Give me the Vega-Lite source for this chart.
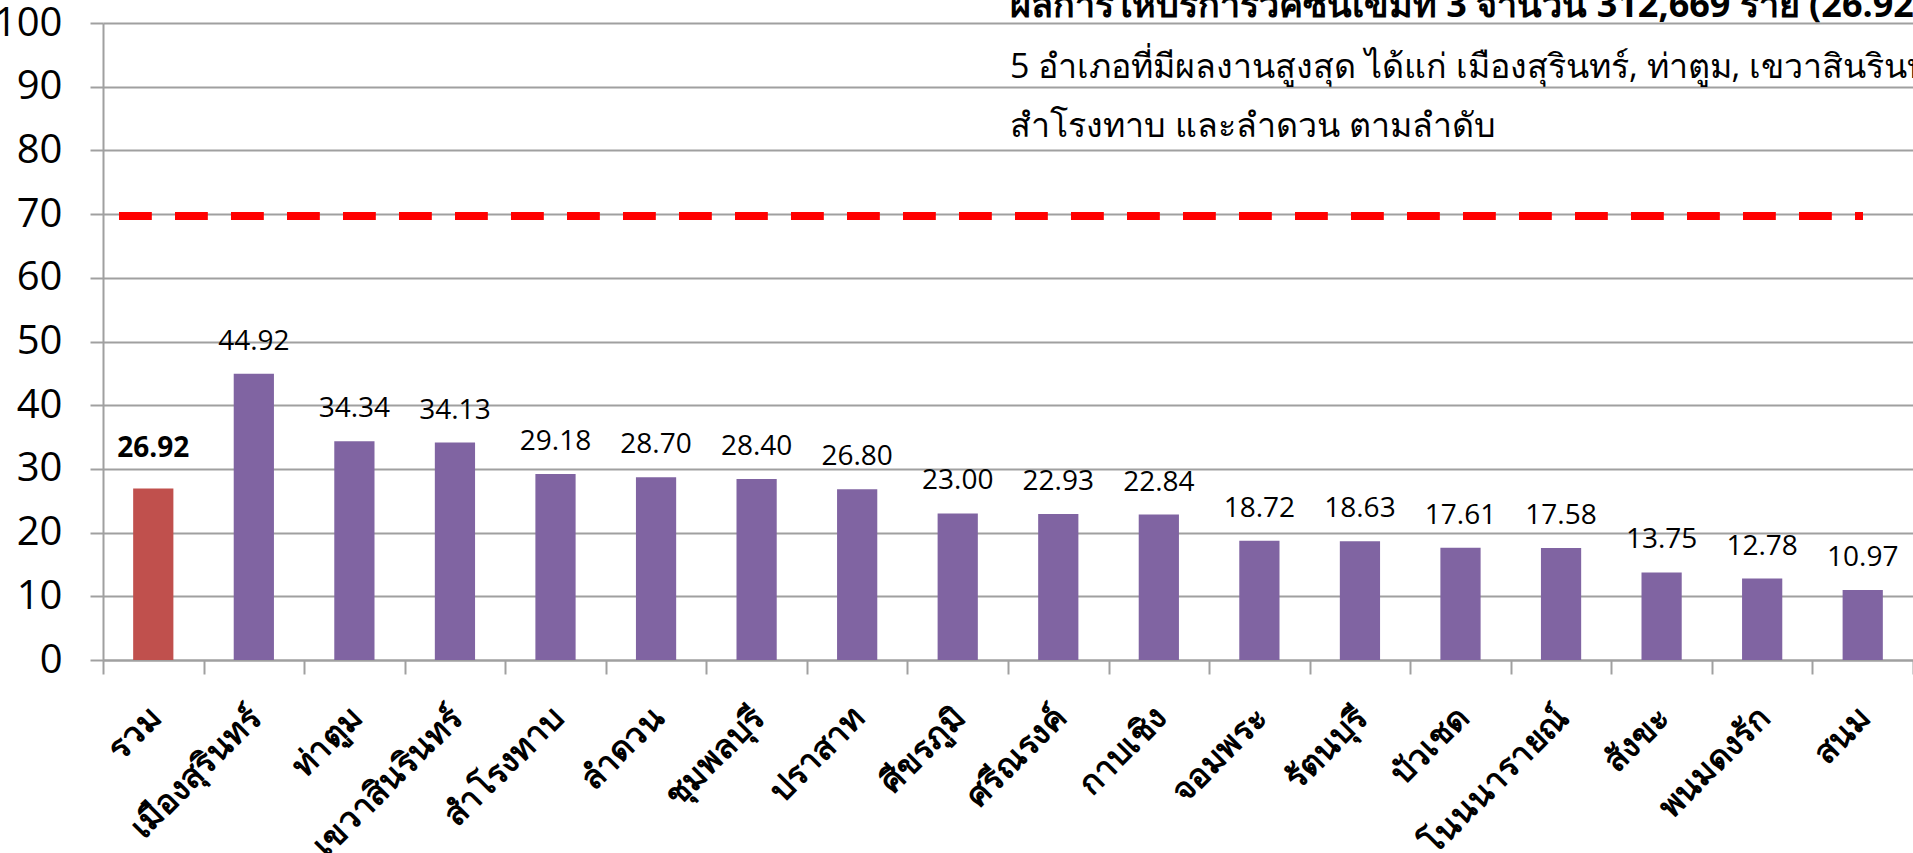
{
  "$schema": "https://vega.github.io/schema/vega-lite/v6.json",
  "width": 1810,
  "height": 637,
  "autosize": {"type": "none"},
  "padding": {"left": 103, "top": 23, "right": 0, "bottom": 193},
  "background": "white",
  "config": {"view": {"stroke": null}, "font": "Open Sans"},
  "datasets": {
    "bars": [
      {"district": "รวม", "pct": 26.92, "kind": "total"},
      {"district": "เมืองสุรินทร์", "pct": 44.92, "kind": "district"},
      {"district": "ท่าตูม", "pct": 34.34, "kind": "district"},
      {"district": "เขวาสินรินทร์", "pct": 34.13, "kind": "district"},
      {"district": "สำโรงทาบ", "pct": 29.18, "kind": "district"},
      {"district": "ลำดวน", "pct": 28.70, "kind": "district"},
      {"district": "ชุมพลบุรี", "pct": 28.40, "kind": "district"},
      {"district": "ปราสาท", "pct": 26.80, "kind": "district"},
      {"district": "ศีขรภูมิ", "pct": 23.00, "kind": "district"},
      {"district": "ศรีณรงค์", "pct": 22.93, "kind": "district"},
      {"district": "กาบเชิง", "pct": 22.84, "kind": "district"},
      {"district": "จอมพระ", "pct": 18.72, "kind": "district"},
      {"district": "รัตนบุรี", "pct": 18.63, "kind": "district"},
      {"district": "บัวเชด", "pct": 17.61, "kind": "district"},
      {"district": "โนนนารายณ์", "pct": 17.58, "kind": "district"},
      {"district": "สังขะ", "pct": 13.75, "kind": "district"},
      {"district": "พนมดงรัก", "pct": 12.78, "kind": "district"},
      {"district": "สนม", "pct": 10.97, "kind": "district"}
    ]
  },
  "data": {"name": "bars"},
  "layer": [
    {
      "mark": {"type": "bar", "width": {"band": 0.4}},
      "encoding": {
        "x": {
          "field": "district", "type": "nominal", "sort": null,
          "scale": {
            "domain": ["รวม", "เมืองสุรินทร์", "ท่าตูม", "เขวาสินรินทร์", "สำโรงทาบ", "ลำดวน", "ชุมพลบุรี", "ปราสาท", "ศีขรภูมิ", "ศรีณรงค์", "กาบเชิง", "จอมพระ", "รัตนบุรี", "บัวเชด", "โนนนารายณ์", "สังขะ", "พนมดงรัก", "สนม"],
            "paddingInner": 0, "paddingOuter": 0
          },
          "axis": {
            "title": null, "labelAngle": -45, "tickBand": "extent", "tickSize": 14,
            "tickColor": "#a0a0a0", "tickWidth": 2, "domainColor": "#a0a0a0", "domainWidth": 2,
            "labelFontSize": 33, "labelFontWeight": "bold", "labelColor": "#000000",
            "labelPadding": 27, "labelOffset": -9, "labelLimit": 400, "grid": false
          }
        },
        "y": {
          "field": "pct", "type": "quantitative",
          "scale": {"domain": [0, 100]},
          "axis": {
            "title": null, "values": [0, 10, 20, 30, 40, 50, 60, 70, 80, 90, 100],
            "grid": true, "gridColor": "#a0a0a0", "gridWidth": 2,
            "domainColor": "#a0a0a0", "domainWidth": 2,
            "tickColor": "#a0a0a0", "tickWidth": 2, "tickSize": 13,
            "labelFontSize": 40, "labelColor": "#000000", "labelPadding": 28
          }
        },
        "color": {
          "field": "kind", "type": "nominal",
          "scale": {"domain": ["total", "district"], "range": ["#C0504D", "#8064A2"]},
          "legend": null
        }
      }
    },
    {
      "mark": {"type": "rule", "color": "#ff0000", "strokeWidth": 8, "strokeDash": [32, 24], "strokeCap": "butt"},
      "encoding": {
        "x": {"datum": "รวม", "type": "nominal", "bandPosition": 0.16},
        "x2": {"datum": "สนม"},
        "y": {"datum": 69.7}
      }
    },
    {
      "transform": [{"filter": "datum.kind === 'total'"}],
      "mark": {"type": "text", "dy": -32, "baseline": "alphabetic", "fontSize": 28, "fontWeight": "bold", "color": "#000000"},
      "encoding": {
        "x": {"field": "district", "type": "nominal", "sort": null},
        "y": {"field": "pct", "type": "quantitative"},
        "text": {"field": "pct", "type": "quantitative", "format": ".2f"}
      }
    },
    {
      "transform": [{"filter": "datum.kind !== 'total'"}],
      "mark": {"type": "text", "dy": -24, "baseline": "alphabetic", "fontSize": 28, "color": "#000000"},
      "encoding": {
        "x": {"field": "district", "type": "nominal", "sort": null},
        "y": {"field": "pct", "type": "quantitative"},
        "text": {"field": "pct", "type": "quantitative", "format": ".2f"}
      }
    },
    {
      "data": {"values": [{"note": "ผลการให้บริการวัคซีนเข็มที่ 3 จำนวน 312,669 ราย (26.92%)"}]},
      "mark": {"type": "text", "align": "left", "baseline": "alphabetic", "fontSize": 36, "fontWeight": "bold", "dx": 2, "color": "#000000"},
      "encoding": {
        "x": {"datum": "ศรีณรงค์", "type": "nominal", "bandPosition": 0},
        "y": {"datum": 100.9},
        "text": {"field": "note", "type": "nominal"}
      }
    },
    {
      "data": {"values": [{"note": "5 อำเภอที่มีผลงานสูงสุด ได้แก่ เมืองสุรินทร์, ท่าตูม, เขวาสินรินทร์,\nสำโรงทาบ และลำดวน ตามลำดับ"}]},
      "mark": {"type": "text", "align": "left", "baseline": "alphabetic", "fontSize": 34, "lineBreak": "\n", "lineHeight": 59, "dx": 2, "color": "#000000"},
      "encoding": {
        "x": {"datum": "ศรีณรงค์", "type": "nominal", "bandPosition": 0},
        "y": {"datum": 91.4},
        "text": {"field": "note", "type": "nominal"}
      }
    }
  ]
}
